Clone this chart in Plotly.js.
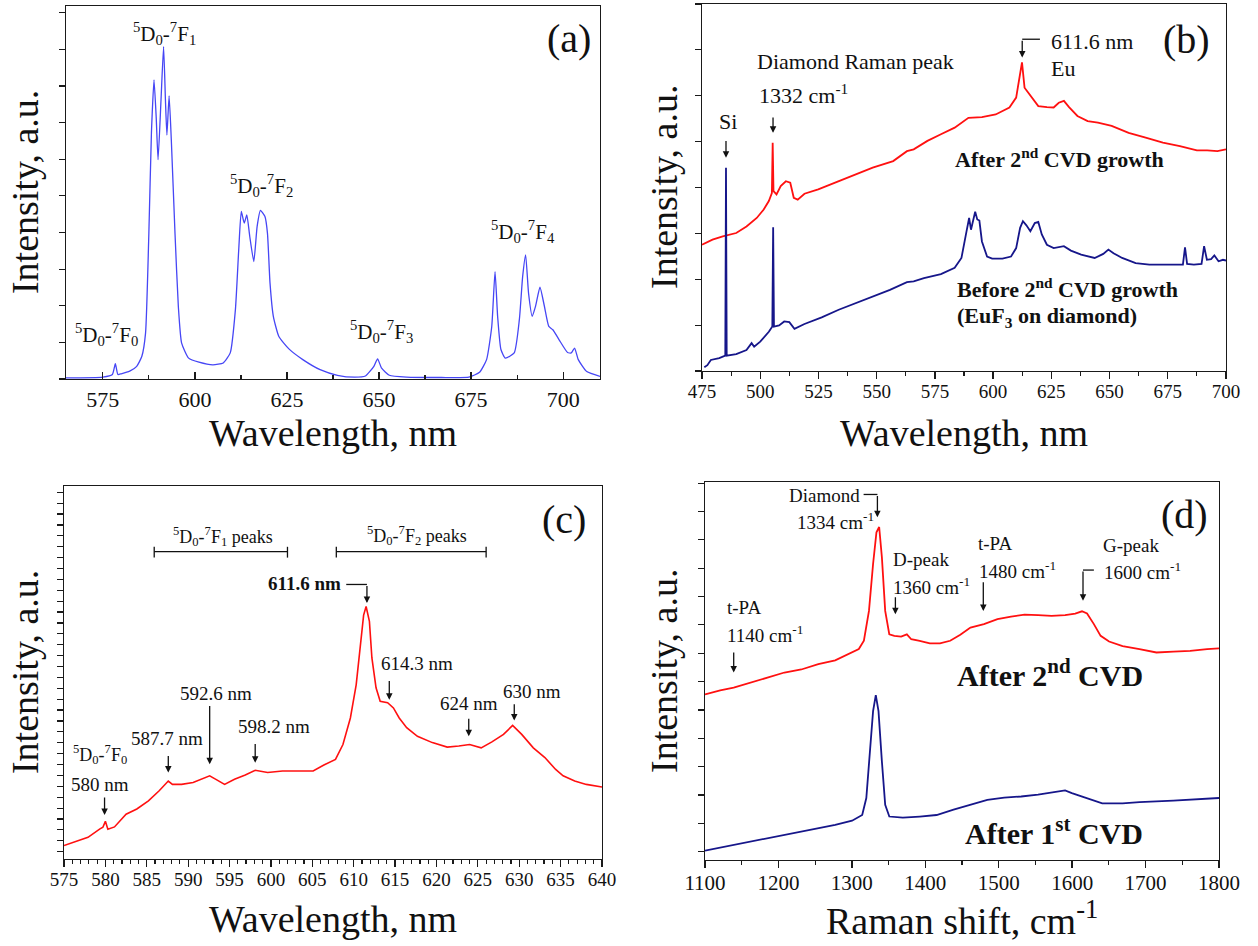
<!DOCTYPE html>
<html>
<head>
<meta charset="utf-8">
<script src="https://cdn.plot.ly/plotly-3.0.1.min.js"></script>
<style>html,body{margin:0;padding:0;background:#fff;}#chart{width:1258px;height:946px;}</style>
</head>
<body>
<div id="chart"></div>
<script>
// ---------- Data (intensities in arbitrary units) ----------
// (a) EuF3 photoluminescence spectrum
const aWavelength = [565,575,577.6,578.4,579.1,580,582.3,584.2,585.6,586.6,587.5,588.2,588.9,589.5,590,590.8,591.5,592,592.4,593,593.6,594.6,595.5,596.4,598.3,601.1,604.9,607.7,609.6,611,611.9,612.6,613.4,614.1,614.9,616,616.9,617.8,619,619.7,620.4,621.3,622.8,625.6,629.3,634,638.7,643.4,646.3,648.6,649.6,650.7,652.8,657.5,666.9,674.4,677.3,679.2,680.6,681.5,682.2,683.1,684.3,686.7,688.1,689,689.8,690.6,691.6,692.5,693.7,694.9,696.1,697.2,698.9,701.2,702.2,703.1,704.1,706.4,710];
const aIntensity  = [0.3,0.5,1.2,4.1,1.2,1.4,2.1,3.4,6.1,12.3,39,66,80.2,70,58.8,74.8,89.1,74.8,65.4,75.9,64,39,19.5,9.6,5.6,4.5,3.8,4.3,7,18.6,34.6,44.9,41.8,44,38.2,31.5,40.9,45.2,43.6,39.1,25.7,16.8,11.4,8,5.2,2.5,1,0.5,0.8,3.4,5.4,2.9,1,0.5,0.4,0.5,1.8,5.2,14,28.8,16.8,7.9,5.6,7,15.9,27.5,33.3,23,16.8,19.5,24.6,19.5,14.1,13.2,10.5,7.1,7,8.3,5.2,2,0.7];

// (b) spectra before / after 2nd CVD growth
const bWavelengthAfter = [475,479.5,483.9,489.7,494.1,498.5,501.5,503.7,505.0,505.35,505.7,507,508.8,511,512.9,514.4,516.1,519,524.9,533.7,541,548.3,557.1,563,565.9,571.8,577.6,583.5,589.4,595.2,601.1,607,609.9,611.3,612.4,613.5,615,616.5,619.4,623.1,626,628.2,630.4,632.6,636.2,640.6,645,650.9,658.2,665.5,672.9,680.2,687.5,691.9,696.3,700];
const bAfter = [34.4,35.8,36.7,37.6,39.4,41.7,44,46.3,48.5,62.2,49,48.1,50.4,51.7,51.3,47.2,46.7,48.3,49.5,51.7,53.6,55.4,57.2,59.9,60.4,62.7,64.5,66.3,69,69.2,69.9,71.8,74.5,80,84.1,77.2,75.9,74.5,72.2,71.9,71.8,73.1,73.6,71.9,69.5,68.1,67.7,66.8,64.9,63.6,62.2,61.3,60.1,60.1,59.9,60.4];
const bWavelengthBefore = [476,477.3,478.8,482.4,485.0,485.3,485.6,489.7,494.1,496.3,497.4,500,503.7,505.2,505.55,505.9,508.1,510.3,512.5,514.7,519,526.4,533.7,541,548.3,555.7,563,565.9,570.3,577.6,583.5,586.4,588.6,589.7,590.5,591.4,592.3,593.2,594.1,595.2,597.4,599.6,604,607.7,609.9,611.6,612.8,614.3,616,617.9,619.4,620.9,623.1,626,630.4,633.4,637.8,643.6,647.3,649.5,651.7,655.4,661.2,667.1,677.4,681.5,682.4,683.3,686.2,689.5,690.6,691.8,693.6,695,696.8,698.7,700];
const bBefore = [1.0,1.6,3.0,3.5,4.2,55.4,4.2,4.6,5.7,7.6,6.6,8,10.7,12.1,39.2,12.1,12.4,13.5,13.3,11.5,12.8,14.6,16.7,18.5,20.3,22.1,24.2,24.4,25.3,26.4,28.1,30.8,38.1,41.7,38.5,40.8,43.4,41.3,41,35.3,31.2,30.6,30.6,31.2,33.5,39,40.8,39.7,38.1,40.3,40.6,37.2,34.4,33.5,34,32.8,31.7,30.8,31.9,33.1,32.1,30.8,29.4,29,29,29,33.7,29.2,29,29.2,34,30.3,30.5,31.5,29.9,30.3,30.1];

// (c) zoomed spectrum after 2nd CVD
const cWavelength = [575,576.6,577.9,579.3,579.7,580,580.3,581.1,582.5,583.8,585.2,586.5,587.2,587.6,588.1,589.2,590.6,591.9,592.6,593.3,594.4,595.6,596.9,598.1,599.6,601.4,603.3,605.1,606.4,607.8,608.7,609.6,610.3,610.8,611.2,611.5,611.9,612.2,612.7,613.2,614.1,614.8,615.5,616.4,617.7,619.5,621.3,622.7,624,625.4,626.7,628.1,629.2,630.3,631.7,633.1,634.4,635.3,636.7,638.1,640];
const cIntensity  = [3.6,4.7,5.8,8,8.5,10.1,8,8.6,12,13.4,15.6,18.3,20,20.9,20,20,20.5,21.8,22.3,21.4,20,21.4,22.5,23.8,23.2,23.6,23.6,23.6,25.2,26.7,30.7,37.8,46.7,56.5,65.4,67.7,63.7,53.9,45.9,42.3,41.9,40.5,37.8,35.2,32.9,31.2,30,30.3,30.7,29.8,31.4,33.4,35.8,33.4,29.8,27.2,24,22.3,20.9,20,19.3];

// (d) Raman spectra
const dShiftAfter2 = [1100,1120.7,1139.1,1162.2,1185.2,1208.2,1231.2,1254.3,1277.3,1295.7,1309.5,1316.4,1323.3,1328.9,1333.5,1337.2,1340.9,1345.4,1351,1357.9,1367.1,1374.9,1380.9,1392.4,1406.2,1420,1433.9,1447.7,1461.5,1479.9,1498.3,1516.8,1535.2,1553.6,1572,1590.4,1604.2,1613.4,1620.3,1629.6,1638.8,1650.3,1668.7,1691.7,1714.8,1737.8,1760.8,1783.8,1800];
const dAfter2 = [43.8,44.9,45.6,46.9,48.2,49.6,50.4,51.8,52.8,54.4,55.8,58,65.9,78.3,86.7,88.1,80.1,65.9,59.7,59.3,59.1,59.7,58.4,58,57.3,57.3,58,59.6,61.5,62.4,63.7,64.4,64.9,64.8,64.6,64.8,65.2,65.8,65.2,62.4,59.3,57.8,56.6,55.8,54.9,55.1,55.3,55.8,56];
const dShiftAfter1 = [1100,1139.1,1185.2,1231.2,1277.3,1300.3,1314.1,1319.7,1324.3,1328.9,1332.6,1336.3,1340.9,1345.4,1351,1369.4,1392.4,1415.4,1438.5,1461.5,1484.5,1507.5,1530.6,1553.6,1576.6,1590.4,1599.6,1613.4,1627.2,1641,1668.7,1691.7,1737.8,1760.8,1800];
const dAfter1 = [2.5,4,5.8,7.5,9.3,10.4,11.9,16.4,27.9,39.4,43.6,39.4,26.1,14.6,11.5,11.2,11.5,11.9,13.3,14.6,15.9,16.5,16.8,17.3,18,18.4,17.7,16.8,15.7,15,15,15.3,15.7,15.9,16.4];

// ---------- Styling ----------
const FONT = 'Liberation Serif, Times New Roman, serif';
const INK = '#1a1a1a';
const RED = '#ff1010';
const NAVY = '#16168a';

const traces = [
  {x: aWavelength, y: aIntensity, xaxis: 'x', yaxis: 'y', type: 'scatter', mode: 'lines',
   line: {color: '#4646f5', width: 1.3, shape: 'spline', smoothing: 0.5}},
  {x: bWavelengthAfter, y: bAfter, xaxis: 'x2', yaxis: 'y2', type: 'scatter', mode: 'lines',
   line: {color: RED, width: 1.8}},
  {x: bWavelengthBefore, y: bBefore, xaxis: 'x2', yaxis: 'y2', type: 'scatter', mode: 'lines',
   line: {color: NAVY, width: 1.8}},
  {x: cWavelength, y: cIntensity, xaxis: 'x3', yaxis: 'y3', type: 'scatter', mode: 'lines',
   line: {color: RED, width: 1.6}},
  {x: dShiftAfter2, y: dAfter2, xaxis: 'x4', yaxis: 'y4', type: 'scatter', mode: 'lines',
   line: {color: RED, width: 1.8}},
  {x: dShiftAfter1, y: dAfter1, xaxis: 'x4', yaxis: 'y4', type: 'scatter', mode: 'lines',
   line: {color: NAVY, width: 1.8}}
];

function xAx(domain, range, dtick, minorDtick, tickDir, fontSize, anchor, standoff) {
  return {domain: domain, range: range, anchor: anchor, dtick: dtick, tick0: 0,
    ticks: tickDir, ticklen: 7, tickwidth: 1.3, tickcolor: INK,
    minor: {dtick: minorDtick, ticks: tickDir, ticklen: 4, tickwidth: 1.2, tickcolor: INK, showgrid: false},
    showline: true, linecolor: INK, linewidth: 1.4, mirror: true,
    showgrid: false, zeroline: false, fixedrange: true, ticklabelstandoff: standoff,
    tickfont: {family: FONT, size: fontSize, color: '#111'}};
}
function yAx(domain, tick0, dtick, anchor) {
  return {domain: domain, range: [0, 100], anchor: anchor, tick0: tick0, dtick: dtick,
    ticks: 'outside', ticklen: 6, tickwidth: 1.2, tickcolor: INK, showticklabels: false,
    showline: true, linecolor: INK, linewidth: 1.4, mirror: true,
    showgrid: false, zeroline: false, fixedrange: true};
}

const ann = [];
function txt(xr, yr, x, y, text, size, xanchor, extra) {
  ann.push(Object.assign({xref: xr, yref: yr, x: x, y: y, text: text, showarrow: false,
    xanchor: xanchor || 'center', yanchor: 'middle',
    font: {family: FONT, size: size, color: '#111'}}, extra || {}));
}
function arrow(xr, yr, x, yHead, yTail) {
  ann.push({xref: xr, yref: yr, x: x, y: yHead, axref: xr, ayref: yr, ax: x, ay: yTail,
    text: '', showarrow: true, arrowhead: 2, arrowsize: 1, arrowwidth: 1.3, arrowcolor: '#111',
    standoff: 0, startstandoff: 0});
}
const shapes = [];
function seg(xr, yr, x0, y0, x1, y1) {
  shapes.push({type: 'line', xref: xr, yref: yr, x0: x0, y0: y0, x1: x1, y1: y1,
    line: {color: '#111', width: 1.3}});
}

const T = (n) => '<sup>5</sup>D<sub>0</sub>-<sup>7</sup>F<sub>' + n + '</sub>';

// (a) labels
txt('x', 'y', 591.8, 92.5, T(1), 21);
txt('x', 'y', 618, 52, T(2), 21);
txt('x', 'y', 576, 11.9, T(0), 21);
txt('x', 'y', 650.7, 12.8, T(3), 21);
txt('x', 'y', 689, 39.6, T(4), 21);
txt('x', 'y', 708, 91.2, '(a)', 40, 'right');

// (b) labels
txt('x2', 'y2', 486.1, 67.9, 'Si', 22);
arrow('x2', 'y2', 485.3, 58.1, 63.1);
txt('x2', 'y2', 497.8, 84.3, 'Diamond Raman peak', 22, 'left');
txt('x2', 'y2', 498.5, 75.4, '1332 cm<sup>-1</sup>', 22, 'left');
arrow('x2', 'y2', 505.5, 64.9, 69.5);
txt('x2', 'y2', 623.8, 89.8, '611.6 nm', 22, 'left');
txt('x2', 'y2', 623.8, 82.5, 'Eu', 22, 'left');
arrow('x2', 'y2', 612.5, 85.4, 90.4);
seg('x2', 'y2', 612.5, 90.4, 620.1, 90.4);
txt('x2', 'y2', 582.8, 58.1, '<b>After 2<sup>nd</sup> CVD growth</b>', 22, 'left');
txt('x2', 'y2', 583.5, 22.6, '<b>Before 2<sup>nd</sup> CVD growth</b>', 22, 'left');
txt('x2', 'y2', 583.5, 14.8, '<b>(EuF<sub>3</sub> on diamond)</b>', 22, 'left');
txt('x2', 'y2', 694, 90.2, '(b)', 40, 'right');

// (c) labels
txt('x3', 'y3', 594.2, 86.4, T(1) + ' peaks', 18);
txt('x3', 'y3', 617.6, 86.8, T(2) + ' peaks', 18);
seg('x3', 'y3', 585.9, 82.4, 602, 82.4);
seg('x3', 'y3', 585.9, 80.8, 585.9, 83.7);
seg('x3', 'y3', 602, 80.8, 602, 83.7);
seg('x3', 'y3', 607.9, 82.4, 626, 82.4);
seg('x3', 'y3', 607.9, 80.8, 607.9, 83.7);
seg('x3', 'y3', 626, 80.8, 626, 83.7);
txt('x3', 'y3', 608.7, 73.9, '<b>611.6 nm</b>', 19, 'right');
seg('x3', 'y3', 609.1, 73.6, 611.6, 73.6);
arrow('x3', 'y3', 611.6, 68.6, 73.6);
txt('x3', 'y3', 613, 52.3, '614.3 nm', 19, 'left');
arrow('x3', 'y3', 614.3, 42.7, 48.1);
txt('x3', 'y3', 593.4, 44.5, '592.6 nm', 19);
arrow('x3', 'y3', 592.6, 25.4, 41.4);
txt('x3', 'y3', 600.4, 35.4, '598.2 nm', 19);
arrow('x3', 'y3', 598.1, 25.8, 31.2);
txt('x3', 'y3', 587.4, 32.3, '587.7 nm', 19);
arrow('x3', 'y3', 587.6, 23.2, 28);
txt('x3', 'y3', 579.3, 27.9, T(0), 18);
txt('x3', 'y3', 579.3, 20, '580 nm', 19);
arrow('x3', 'y3', 579.9, 11.8, 16.9);
txt('x3', 'y3', 623.9, 41.7, '624 nm', 19);
arrow('x3', 'y3', 623.9, 32.9, 38);
txt('x3', 'y3', 631.6, 44.8, '630 nm', 19);
arrow('x3', 'y3', 629.4, 37.1, 41.9);
txt('x3', 'y3', 638.3, 90.9, '(c)', 40, 'right');

// (d) labels
txt('x4', 'y4', 1314.1, 96.5, 'Diamond', 19, 'right');
seg('x4', 'y4', 1316, 96.7, 1334.8, 96.7);
arrow('x4', 'y4', 1334.8, 90.7, 96.7);
txt('x4', 'y4', 1222, 89.8, '1334 cm<sup>-1</sup>', 19, 'left');
txt('x4', 'y4', 1353.3, 79.6, 'D-peak', 19, 'left');
txt('x4', 'y4', 1353.3, 72.6, '1360 cm<sup>-1</sup>', 19, 'left');
arrow('x4', 'y4', 1359.3, 65, 69.9);
txt('x4', 'y4', 1468.4, 83.6, 't-PA', 19, 'left');
txt('x4', 'y4', 1470.7, 76.8, '1480 cm<sup>-1</sup>', 19, 'left');
arrow('x4', 'y4', 1479, 65.9, 73.9);
txt('x4', 'y4', 1638.8, 83.2, 'G-peak', 19, 'left');
txt('x4', 'y4', 1641, 76.5, '1600 cm<sup>-1</sup>', 19, 'left');
seg('x4', 'y4', 1614.8, 76.7, 1629.6, 76.7);
arrow('x4', 'y4', 1614.8, 68.6, 76.7);
txt('x4', 'y4', 1127.6, 66.8, 't-PA', 19, 'left');
txt('x4', 'y4', 1127.6, 59.7, '1140 cm<sup>-1</sup>', 19, 'left');
arrow('x4', 'y4', 1139.1, 49.6, 55.3);
txt('x4', 'y4', 1441, 49.6, '<b>After 2<sup>nd</sup> CVD</b>', 30, 'left');
txt('x4', 'y4', 1452, 7.7, '<b>After 1<sup>st</sup> CVD</b>', 30, 'left');
txt('x4', 'y4', 1787.7, 91.3, '(d)', 40, 'right');

// axis titles (paper coordinates)
txt('paper', 'paper', 0.2647, 0.5423, 'Wavelength, nm', 38);
txt('paper', 'paper', 0.7663, 0.5423, 'Wavelength, nm', 38);
txt('paper', 'paper', 0.2647, 0.0285, 'Wavelength, nm', 38);
txt('paper', 'paper', 0.7647, 0.0300, 'Raman shift, cm<sup>-1</sup>', 38);
txt('paper', 'paper', 0.0199, 0.7970, 'Intensity, a.u.', 38, 'center', {textangle: -90});
txt('paper', 'paper', 0.5278, 0.8023, 'Intensity, a.u.', 38, 'center', {textangle: -90});
txt('paper', 'paper', 0.0199, 0.2896, 'Intensity, a.u.', 38, 'center', {textangle: -90});
txt('paper', 'paper', 0.5278, 0.2907, 'Intensity, a.u.', 38, 'center', {textangle: -90});

const layout = {
  width: 1258, height: 946,
  margin: {l: 0, r: 0, t: 0, b: 0},
  paper_bgcolor: '#ffffff', plot_bgcolor: '#ffffff',
  showlegend: false,
  font: {family: FONT, color: '#111'},
  xaxis:  xAx([0.05246, 0.47695], [565, 710], 25, 12.5, 'inside', 22, 'y', 0),
  yaxis:  yAx([0.59937, 0.99366], 0, 9.82, 'x'),
  xaxis2: xAx([0.55803, 0.97456], [475, 700], 25, 12.5, 'outside', 19, 'y2', -4),
  yaxis2: yAx([0.60782, 0.99577], 0, 12.5, 'x2'),
  xaxis3: xAx([0.05087, 0.47854], [575, 640], 5, 1, 'outside', 19, 'y3', -4),
  yaxis3: yAx([0.09197, 0.48626], 1.96, 2.92, 'x3'),
  xaxis4: xAx([0.56041, 0.96900], [1100, 1800], 100, 50, 'outside', 21, 'y4', -4),
  yaxis4: yAx([0.09091, 0.49049], 2.2, 7.5, 'x4'),
  annotations: ann,
  shapes: shapes
};

Plotly.newPlot('chart', traces, layout, {staticPlot: true, displayModeBar: false});
</script>
</body>
</html>
